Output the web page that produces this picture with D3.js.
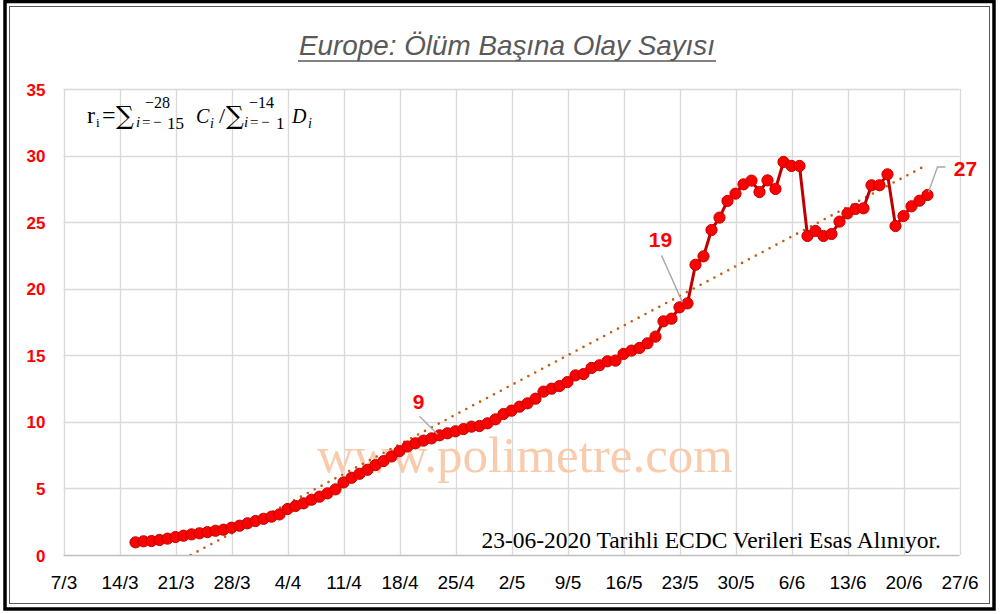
<!DOCTYPE html>
<html><head><meta charset="utf-8">
<script src="https://cdn.jsdelivr.net/npm/d3@7"></script>
<style>
html,body{margin:0;padding:0;background:#fff;}
svg{display:block;}
</style></head>
<body>
<script>
// ---------------- DATA ----------------
const chartTitle = "Europe: Ölüm Başına Olay Sayısı";
const footnote = "23-06-2020 Tarihli ECDC Verileri Esas Alınıyor.";
const watermark = "www.polimetre.com";
const firstDate = "16/3/2020";   // first daily observation
const xTickLabels = ["7/3","14/3","21/3","28/3","4/4","11/4","18/4","25/4","2/5","9/5","16/5","23/5","30/5","6/6","13/6","20/6","27/6"];
const yTicks = [0,5,10,15,20,25,30,35];
// daily values 16/3 .. 23/6
const ratioValues = [
 0.95,1.03,1.05,1.13,1.23,1.35,1.45,1.55,1.63,1.72,
 1.82,1.90,2.05,2.20,2.38,2.55,2.72,2.88,3.05,3.45,
 3.68,3.88,4.15,4.38,4.63,4.93,5.45,5.80,6.10,6.40,
 6.75,7.05,7.40,7.80,8.15,8.39,8.59,8.76,8.99,9.14,
 9.29,9.46,9.64,9.69,9.89,10.19,10.59,10.84,11.14,11.39,
 11.74,12.27,12.49,12.69,12.99,13.49,13.59,14.05,14.25,14.55,
 14.60,15.10,15.35,15.55,15.90,16.40,17.55,17.75,18.60,18.90,
 21.80,22.43,24.41,25.34,26.59,27.14,27.84,28.12,27.26,28.14,
 27.49,29.52,29.22,29.22,23.96,24.34,23.96,24.11,25.04,25.66,
 25.99,26.04,27.77,27.77,28.59,24.71,25.46,26.19,26.61,27.04
];
// dates whose values carry a data label
const labelledDates = ["23/4","24/5","23/6"];

// ---------------- SETUP ----------------
const W = 1000, H = 614;
const parse = s => d3.timeParse("%d/%m/%Y")(s.split("/").length === 2 ? s + "/2020" : s);
const start = parse(firstDate);
const data = ratioValues.map((v,i) => ({date: d3.timeDay.offset(start, i), value: v}));
const tickDates = xTickLabels.map(parse);

const plot = {left: 63.5, right: 959.5, top: 89, bottom: 555};
const x = d3.scaleTime().domain([tickDates[0], tickDates[tickDates.length-1]]).range([plot.left, plot.right]);
const y = d3.scaleLinear().domain([0,35]).range([plot.bottom, plot.top]);

const svg = d3.select("body").append("svg").attr("width", W).attr("height", H);
svg.append("rect").attr("width", W).attr("height", H).attr("fill", "#fff");

// frame
svg.append("rect").attr("x", 5).attr("y", 1.5).attr("width", 989).attr("height", 607.5)
  .attr("fill", "none").attr("stroke", "#000").attr("stroke-width", 3.5);
svg.append("rect").attr("x", 9.5).attr("y", 6.5).attr("width", 980).attr("height", 597)
  .attr("fill", "none").attr("stroke", "#595959").attr("stroke-width", 1);

// title
svg.append("text").attr("x", 507).attr("y", 55).attr("text-anchor", "middle")
  .attr("font-family", "Liberation Sans, Arial, sans-serif").attr("font-style", "italic")
  .attr("font-size", 28).attr("fill", "#595959").attr("textLength", 416).attr("lengthAdjust", "spacingAndGlyphs")
  .text(chartTitle);
svg.append("line").attr("x1", 298).attr("x2", 716).attr("y1", 61).attr("y2", 61)
  .attr("stroke", "#595959").attr("stroke-width", 1.6);

// gridlines
const grid = svg.append("g");
grid.selectAll("line.h").data(yTicks).join("line").attr("class","h")
  .attr("x1", plot.left).attr("x2", plot.right)
  .attr("y1", d => Math.round(y(d)) + 0.5).attr("y2", d => Math.round(y(d)) + 0.5)
  .attr("stroke", d => d === 0 ? "#bfbfbf" : "#d9d9d9").attr("stroke-width", 1.3);
grid.selectAll("line.v").data(tickDates).join("line").attr("class","v")
  .attr("x1", d => Math.round(x(d)) + 0.5).attr("x2", d => Math.round(x(d)) + 0.5)
  .attr("y1", plot.top).attr("y2", plot.bottom)
  .attr("stroke", "#d9d9d9").attr("stroke-width", 1.3);

// axes labels
const xAxis = d3.axisBottom(x).tickValues(tickDates).tickFormat((d,i) => xTickLabels[i]).tickSize(0).tickPadding(0);
const gx = svg.append("g").attr("transform", `translate(0,${plot.bottom + 34})`).call(xAxis);
gx.select(".domain").remove();
gx.selectAll("text").attr("font-family", "Liberation Sans, Arial, sans-serif").attr("font-size", 19)
  .attr("fill", "#000").attr("dy", 0);

const yAxis = d3.axisLeft(y).tickValues(yTicks).tickSize(0).tickPadding(0);
const gy = svg.append("g").attr("transform", `translate(${plot.left - 18},0)`).call(yAxis);
gy.select(".domain").remove();
gy.selectAll("text").attr("font-family", "Liberation Sans, Arial, sans-serif").attr("font-size", 17)
  .attr("font-weight", "bold").attr("fill", "#ff0000").attr("dy", "0.36em");

// watermark
svg.append("text").attr("x", 525).attr("y", 472).attr("text-anchor", "middle")
  .attr("font-family", "Liberation Serif, Times New Roman, serif").attr("font-size", 51)
  .attr("fill", "#f8cbad").text(watermark);

// footnote
svg.append("text").attr("x", 941).attr("y", 548).attr("text-anchor", "end")
  .attr("font-family", "Liberation Serif, Times New Roman, serif").attr("font-size", 23.5)
  .attr("fill", "#000").text(footnote);

// formula
const f = svg.append("g").attr("fill", "#000");
const ft = (tx, ty, s, size, italic, fam) => f.append("text").attr("x", tx).attr("y", ty).attr("font-size", size)
  .attr("font-family", fam || "Liberation Serif, DejaVu Serif, serif")
  .attr("font-style", italic ? "italic" : "normal").text(s);
const sig = "DejaVu Serif, Liberation Serif, serif";
ft(87, 123, "r", 24); ft(96, 127, "i", 13); ft(102, 123, "=", 24);
ft(116, 124, "∑", 25, false, sig); ft(145, 108, "−28", 16);
ft(136, 127, "i", 15, true); ft(142, 127, "=", 15); ft(153, 127, "−", 15); ft(167, 129, "15", 17);
ft(196, 123, "C", 20, true); ft(210, 128, "i", 14, true); ft(219, 123, "/", 22);
ft(226, 124, "∑", 25, false, sig); ft(249, 108, "−14", 16);
ft(244, 127, "i", 15, true); ft(250, 127, "=", 15); ft(261, 127, "−", 15); ft(276, 129, "1", 17);
ft(292, 123, "D", 20, true); ft(308, 128, "i", 14, true);

// clip
svg.append("clipPath").attr("id", "plotclip").append("rect")
  .attr("x", plot.left).attr("y", plot.top).attr("width", plot.right - plot.left).attr("height", plot.bottom - plot.top);

// linear trendline (least squares over the series)
const xs = data.map((d,i) => i), ys = data.map(d => d.value);
const mx = d3.mean(xs), my = d3.mean(ys);
const slope = d3.sum(xs.map((xi,i) => (xi-mx)*(ys[i]-my))) / d3.sum(xs.map(xi => (xi-mx)*(xi-mx)));
const icpt = my - slope*mx;
const trend = [0, data.length-1].map(i => ({date: data[i].date, value: icpt + slope*i}));
svg.append("path").datum(trend).attr("clip-path", "url(#plotclip)")
  .attr("d", d3.line().x(d => x(d.date)).y(d => y(d.value)))
  .attr("fill", "none").attr("stroke", "#c55a11").attr("stroke-width", 2.6)
  .attr("stroke-dasharray", "0 7.8").attr("stroke-linecap", "round");

// series line
svg.append("path").datum(data)
  .attr("d", d3.line().x(d => x(d.date)).y(d => y(d.value)))
  .attr("fill", "none").attr("stroke", "#c00000").attr("stroke-width", 3);
svg.append("g").selectAll("circle").data(data).join("circle")
  .attr("cx", d => x(d.date)).attr("cy", d => y(d.value)).attr("r", 5.6)
  .attr("fill", "#ff0000").attr("stroke", "#c00000").attr("stroke-width", 1);

// data labels with leader lines
const labelStyle = [
  {dx: -21, dy: -34, leader: [[-20,-19],[-2,-1]]},
  {dx: -27, dy: -64, leader: [[-26,-48],[-5,-1]]},
  {dx: 38, dy: -27, leader: [[18,-28],[10,-28],[1,-3]]}
];
labelledDates.forEach((s,k) => {
  const dt = parse(s);
  const p = data.find(d => +d.date === +dt);
  const px = x(p.date), py = y(p.value), st = labelStyle[k];
  svg.append("path").attr("d", d3.line()(st.leader.map(q => [px+q[0], py+q[1]])))
    .attr("fill", "none").attr("stroke", "#a6a6a6").attr("stroke-width", 1.3);
  svg.append("text").attr("x", px + st.dx).attr("y", py + st.dy).attr("text-anchor", "middle")
    .attr("dy", "0.36em").attr("font-family", "Liberation Sans, Arial, sans-serif")
    .attr("font-weight", "bold").attr("font-size", 21).attr("fill", "#ff0000")
    .text(d3.format(".0f")(p.value));
});
</script>
</body></html>
